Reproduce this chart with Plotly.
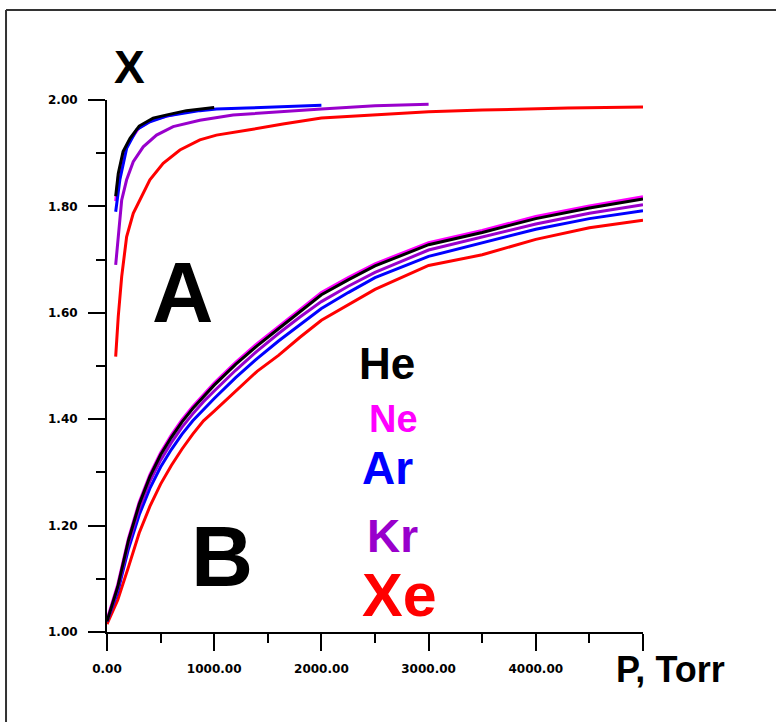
import plotly.graph_objects as go

# ---------------- data ----------------
# Group A curves (upper family)
p_he_a = [81, 105, 150, 215, 300, 430, 560, 740, 1000]
x_he_a = [1.819, 1.862, 1.903, 1.928, 1.951, 1.966, 1.972, 1.980, 1.986]

p_ne_a = [81, 105, 150, 215, 300, 430, 560, 740, 1000]
x_ne_a = [1.810, 1.855, 1.898, 1.924, 1.948, 1.963, 1.970, 1.978, 1.985]

p_ar_a = [81, 120, 183, 276, 400, 556, 866, 1021, 1300, 1611, 2000]
x_ar_a = [1.790, 1.850, 1.909, 1.944, 1.959, 1.970, 1.980, 1.983, 1.985, 1.987, 1.990]

p_kr_a = [81, 105, 137, 183, 245, 338, 462, 617, 866, 1176, 1641, 2000, 2500, 3000]
x_kr_a = [1.690, 1.749, 1.812, 1.850, 1.884, 1.912, 1.934, 1.950, 1.962, 1.972,
          1.979, 1.983, 1.989, 1.992]

p_xe_a = [81, 105, 137, 183, 245, 307, 400, 524, 680, 866, 1021, 1331, 1641,
          2000, 2300, 2650, 3000, 3500, 4300, 5000]
x_xe_a = [1.5175, 1.593, 1.668, 1.743, 1.787, 1.812, 1.850, 1.881, 1.906, 1.925,
          1.934, 1.944, 1.955, 1.966, 1.970, 1.974, 1.978, 1.981, 1.985, 1.987]

# Group B curves (lower family)
p_b = [0, 100, 200, 300, 400, 500, 600, 700, 800, 900, 1000, 1200, 1400, 1600,
       1800, 2000, 2250, 2500, 3000, 3500, 4000, 4500, 5000]
x_he_b = [1.020, 1.085, 1.172, 1.240, 1.292, 1.333, 1.366, 1.395, 1.420, 1.443,
          1.464, 1.503, 1.538, 1.570, 1.602, 1.634, 1.662, 1.688, 1.728, 1.751,
          1.777, 1.797, 1.814]
x_ne_b = [1.023, 1.089, 1.176, 1.244, 1.296, 1.337, 1.370, 1.399, 1.424, 1.447,
          1.468, 1.507, 1.542, 1.574, 1.606, 1.638, 1.666, 1.692, 1.732, 1.755,
          1.781, 1.801, 1.818]
x_kr_b = [1.020, 1.081, 1.166, 1.232, 1.283, 1.323, 1.356, 1.385, 1.410, 1.433,
          1.453, 1.492, 1.528, 1.561, 1.592, 1.621, 1.650, 1.676, 1.718, 1.742,
          1.767, 1.787, 1.803]
x_ar_b = [1.020, 1.075, 1.156, 1.220, 1.270, 1.310, 1.343, 1.372, 1.397, 1.419,
          1.439, 1.478, 1.514, 1.547, 1.578, 1.608, 1.638, 1.666, 1.706, 1.731,
          1.757, 1.777, 1.792]
x_xe_b = [1.015, 1.060, 1.122, 1.186, 1.236, 1.278, 1.313, 1.344, 1.372, 1.397,
          1.415, 1.452, 1.490, 1.520, 1.554, 1.586, 1.615, 1.644, 1.689, 1.709,
          1.738, 1.760, 1.774]

x_tickvals = [0, 1000, 2000, 3000, 4000, 5000]
x_ticktext = ["0.00", "1000.00", "2000.00", "3000.00", "4000.00", ""]

gas_labels = ["He", "Ne", "Ar", "Kr", "Xe"]
gas_colors = ["#000000", "#FF00FF", "#0000FF", "#9900CC", "#FF0000"]

# ---------------- figure ----------------
fig = go.Figure()

def add(px, py, color, width=3):
    fig.add_trace(go.Scatter(x=px, y=py, mode="lines",
                             line=dict(color=color, width=width),
                             showlegend=False, hoverinfo="skip"))

# B family (draw order: red, blue, purple, magenta, black on top)
add(p_b, x_xe_b, gas_colors[4])
add(p_b, x_ar_b, gas_colors[2])
add(p_b, x_kr_b, gas_colors[3])
add(p_b, x_ne_b, gas_colors[1])
add(p_b, x_he_b, gas_colors[0])

# A family
add(p_xe_a, x_xe_a, gas_colors[4])
add(p_kr_a, x_kr_a, gas_colors[3])
add(p_ne_a, x_ne_a, gas_colors[1])
add(p_ar_a, x_ar_a, gas_colors[2])
add(p_he_a, x_he_a, gas_colors[0])

FONT = "Liberation Sans, Arial, sans-serif"

def label(text, x, y, size, color="#000000", ref="data"):
    fig.add_annotation(text=text, x=x, y=y,
                       xref="x" if ref == "data" else "paper",
                       yref="y" if ref == "data" else "paper",
                       showarrow=False, xanchor="center", yanchor="middle",
                       font=dict(family=FONT, size=size, color=color, weight="bold"))

label("A", 704, 1.638, 85)
label("B", 1070, 1.143, 86)
sizes = [44, 38, 46, 46, 61]
pos = [(2612, 1.504), (2668, 1.401), (2621, 1.308), (2659, 1.180), (2733, 1.0695)]
for t, c, s, (px, py) in zip(gas_labels, gas_colors, sizes, pos):
    label(t, px, py, s, c)

label("X", 0.0429, 1.062, 46, ref="paper")
label("P, Torr", 1.0504, -0.0714, 36, ref="paper")

# outer frame (top and left edges visible)
fig.add_shape(type="line", xref="paper", yref="paper",
              x0=-0.1884, x1=1.26, y0=1.1692, y1=1.1692,
              line=dict(color="#333333", width=2))
fig.add_shape(type="line", xref="paper", yref="paper",
              x0=-0.1884, x1=-0.1884, y0=1.1692, y1=-0.18,
              line=dict(color="#333333", width=2))

tickfont = dict(family="DejaVu Sans, sans-serif", size=12, color="#000000", weight="bold")

fig.update_xaxes(range=[0, 5000], showgrid=False, zeroline=False,
                 showline=True, linecolor="#000000", linewidth=2,
                 tickvals=x_tickvals, ticktext=x_ticktext,
                 ticks="outside", ticklen=17, tickwidth=2, tickcolor="#000000",
                 minor=dict(dtick=500, ticks="outside", ticklen=9, tickwidth=2,
                            tickcolor="#000000", showgrid=False),
                 tickfont=tickfont, ticklabelstandoff=8)
fig.update_yaxes(range=[1.0, 2.0], showgrid=False, zeroline=False,
                 showline=True, linecolor="#000000", linewidth=2,
                 dtick=0.2, tick0=1.0, tickformat=".2f",
                 ticks="outside", ticklen=17, tickwidth=2, tickcolor="#000000",
                 minor=dict(dtick=0.1, ticks="outside", ticklen=9, tickwidth=2,
                            tickcolor="#000000", showgrid=False),
                 tickfont=tickfont, ticklabelstandoff=8)

fig.update_layout(width=776, height=722,
                  margin=dict(l=107, r=133, t=100, b=90),
                  paper_bgcolor="white", plot_bgcolor="white",
                  showlegend=False)

fig.write_html("out.html", config={"displayModeBar": False},
               post_script="document.body.style.margin='0';document.body.style.overflow='hidden';")
